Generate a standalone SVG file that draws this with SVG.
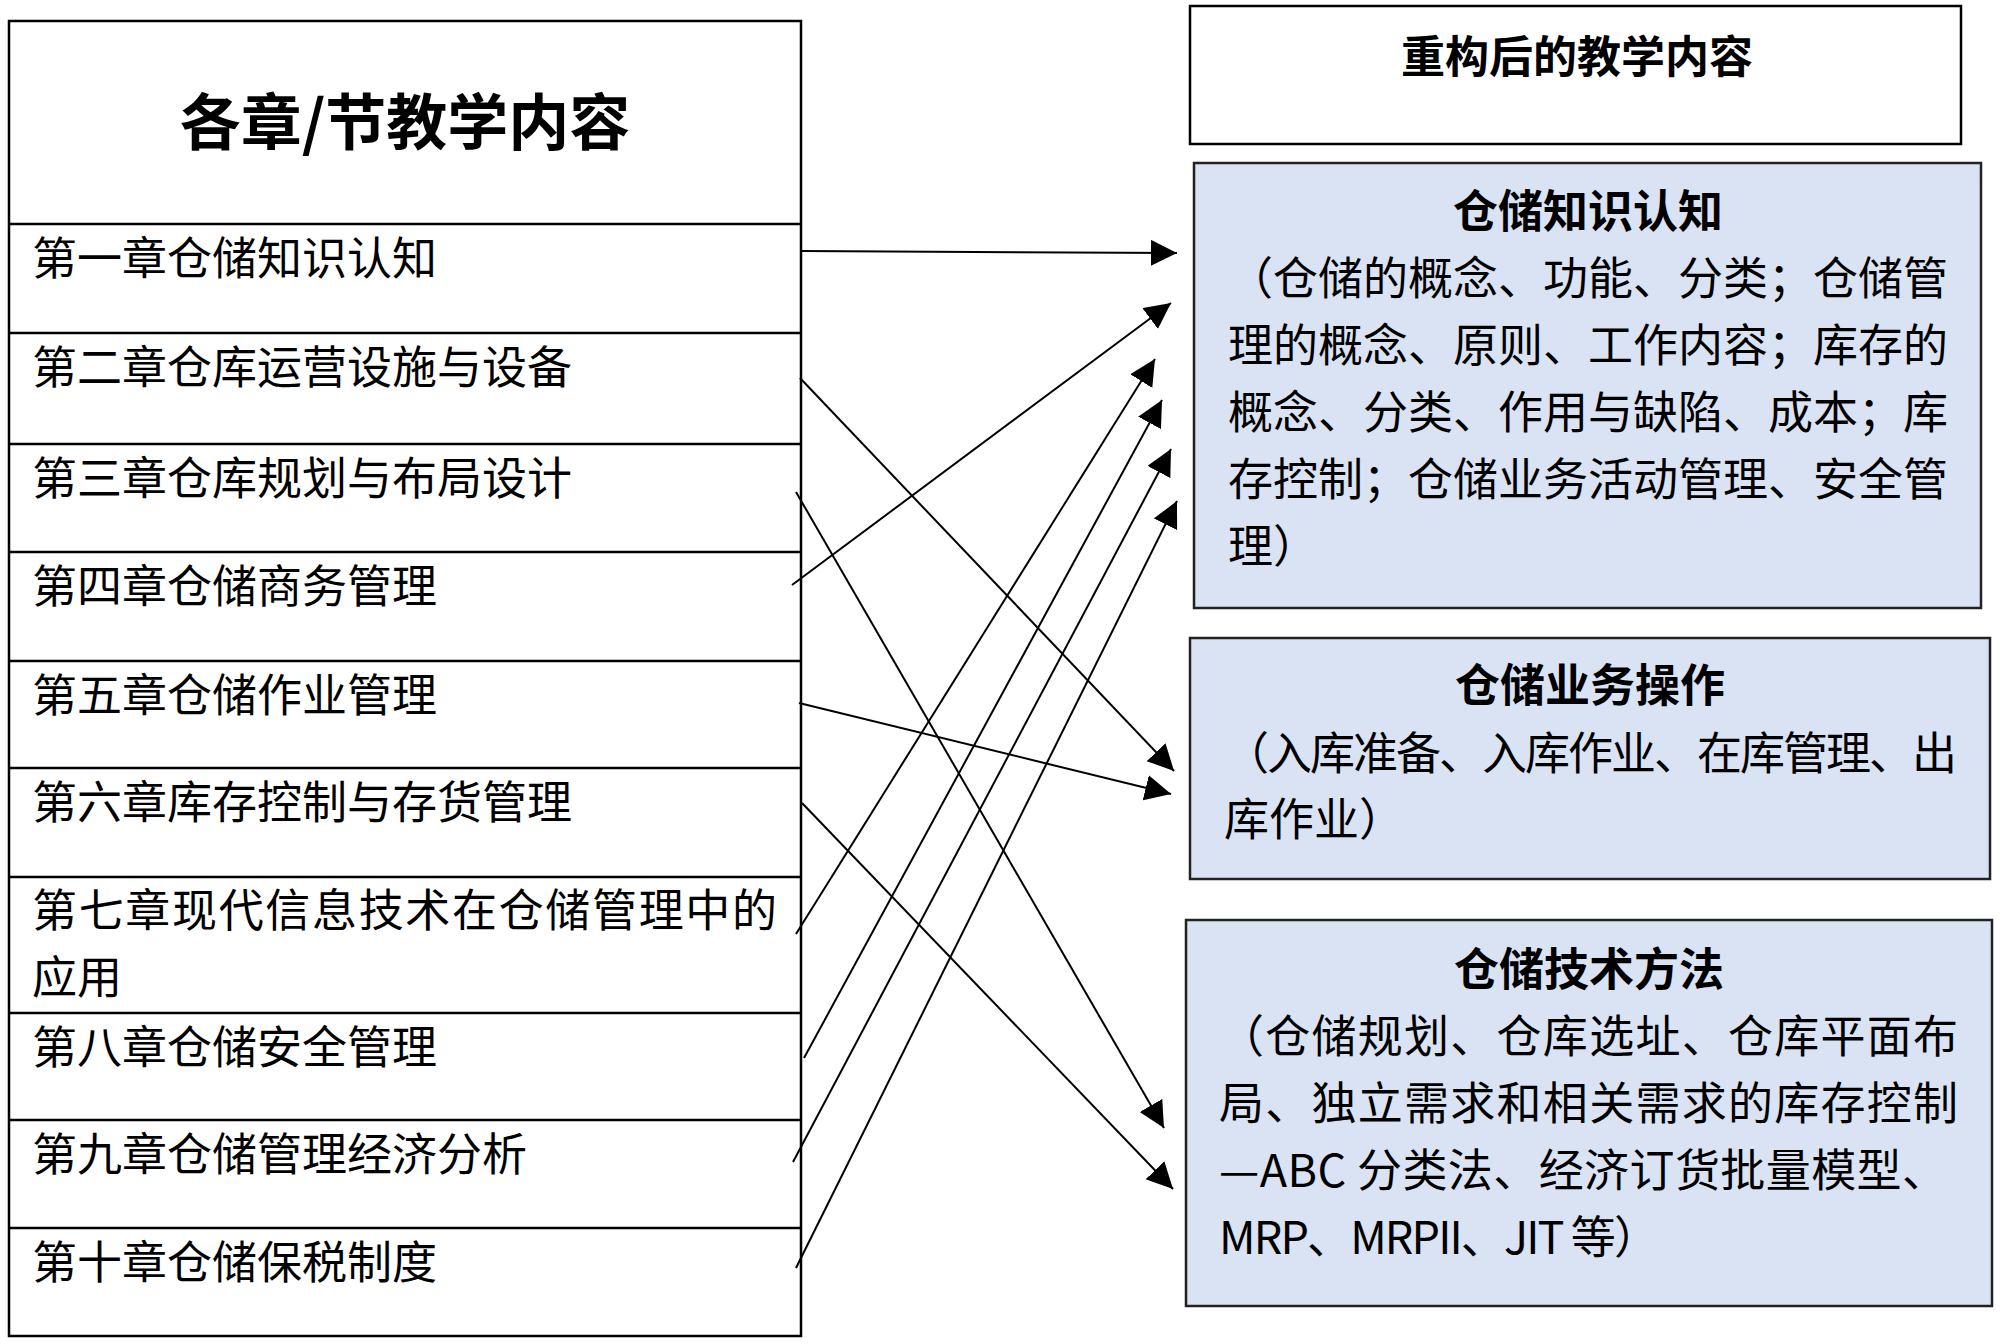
<svg xmlns="http://www.w3.org/2000/svg" width="2000" height="1344" viewBox="0 0 2000 1344">
<style>
  text { font-family: "Noto Sans CJK SC", "Noto Sans", sans-serif; fill: #000; }
  .row { font-size: 45px; }
  .body { font-size: 45px; }
  .ttl { font-size: 45px; font-weight: bold; text-anchor: middle; }
  .frame { fill: #fff; stroke: #000; stroke-width: 2.5; }
  .sep { stroke: #000; stroke-width: 2.5; }
  .blue { fill: #dae3f3; stroke: #222; stroke-width: 2.5; }
  .conn { stroke: #000; stroke-width: 2; fill: none; marker-end: url(#arr); }
</style>
<defs>
  <marker id="arr" markerUnits="userSpaceOnUse" markerWidth="27" markerHeight="27" viewBox="0 0 27 27" refX="26" refY="13" orient="auto">
    <path d="M0,0 L26,13 L0,26 z" fill="#000"/>
  </marker>
</defs>
<rect width="2000" height="1344" fill="#fff"/>

<g id="left-table">
  <rect class="frame" x="9" y="21" width="792" height="1315"/>
  <text x="405" y="145" style="font-size:61px;font-weight:bold;text-anchor:middle">各章/节教学内容</text>
  <line class="sep" x1="9" y1="224" x2="801" y2="224"/>
  <line class="sep" x1="9" y1="333" x2="801" y2="333"/>
  <line class="sep" x1="9" y1="444" x2="801" y2="444"/>
  <line class="sep" x1="9" y1="552" x2="801" y2="552"/>
  <line class="sep" x1="9" y1="661" x2="801" y2="661"/>
  <line class="sep" x1="9" y1="768" x2="801" y2="768"/>
  <line class="sep" x1="9" y1="877" x2="801" y2="877"/>
  <line class="sep" x1="9" y1="1013" x2="801" y2="1013"/>
  <line class="sep" x1="9" y1="1120" x2="801" y2="1120"/>
  <line class="sep" x1="9" y1="1228" x2="801" y2="1228"/>
</g>
<g id="ch1"><text class="row" x="32" y="275">第一章仓储知识认知</text></g>
<g id="ch2"><text class="row" x="32" y="384">第二章仓库运营设施与设备</text></g>
<g id="ch3"><text class="row" x="32" y="495">第三章仓库规划与布局设计</text></g>
<g id="ch4"><text class="row" x="32" y="603">第四章仓储商务管理</text></g>
<g id="ch5"><text class="row" x="32" y="712">第五章仓储作业管理</text></g>
<g id="ch6"><text class="row" x="32" y="819">第六章库存控制与存货管理</text></g>
<g id="ch7"><text class="row" x="32" y="927" textLength="745" lengthAdjust="spacing">第七章现代信息技术在仓储管理中的</text><text class="row" x="32" y="994">应用</text></g>
<g id="ch8"><text class="row" x="32" y="1064">第八章仓储安全管理</text></g>
<g id="ch9"><text class="row" x="32" y="1171">第九章仓储管理经济分析</text></g>
<g id="ch10"><text class="row" x="32" y="1279">第十章仓储保税制度</text></g>

<g id="right-header">
  <rect class="frame" x="1190" y="6" width="771" height="138"/>
  <text class="ttl" x="1577" y="73" style="font-size:44px">重构后的教学内容</text>
</g>

<g id="box-knowledge">
  <rect class="blue" x="1194" y="163" width="787" height="445"/>
  <text class="ttl" x="1588" y="228">仓储知识认知</text>
  <text class="body" x="1228" y="295">（仓储的概念、功能、分类；仓储管</text>
  <text class="body" x="1228" y="362">理的概念、原则、工作内容；库存的</text>
  <text class="body" x="1228" y="429">概念、分类、作用与缺陷、成本；库</text>
  <text class="body" x="1228" y="496">存控制；仓储业务活动管理、安全管</text>
  <text class="body" x="1228" y="563">理）</text>
</g>

<g id="box-operation">
  <rect class="blue" x="1190" y="638" width="800" height="241"/>
  <text class="ttl" x="1590" y="702">仓储业务操作</text>
  <text class="body" x="1224" y="770" textLength="733" lengthAdjust="spacing">（入库准备、入库作业、在库管理、出</text>
  <text class="body" x="1224" y="836">库作业）</text>
</g>

<g id="box-technique">
  <rect class="blue" x="1186" y="920" width="806" height="386"/>
  <text class="ttl" x="1589" y="986">仓储技术方法</text>
  <text class="body" x="1219" y="1053" textLength="739" lengthAdjust="spacing">（仓储规划、仓库选址、仓库平面布</text>
  <text class="body" x="1219" y="1120" textLength="739" lengthAdjust="spacing">局、独立需求和相关需求的库存控制</text>
  <text class="body" x="1219" y="1187" textLength="728" lengthAdjust="spacing">—ABC  分类法、经济订货批量模型、</text>
  <text class="body" x="1219" y="1254" textLength="440" lengthAdjust="spacing">MRP、MRPII、JIT 等）</text>
</g>

<g id="connectors">
  <line class="conn" x1="801" y1="251" x2="1177" y2="253"/>
  <line class="conn" x1="800" y1="378" x2="1174" y2="771"/>
  <line class="conn" x1="796" y1="492" x2="1164" y2="1128"/>
  <line class="conn" x1="792" y1="585" x2="1171" y2="303"/>
  <line class="conn" x1="799" y1="703" x2="1171" y2="794"/>
  <line class="conn" x1="802" y1="803" x2="1173" y2="1189"/>
  <line class="conn" x1="796" y1="934" x2="1155" y2="359"/>
  <line class="conn" x1="804" y1="1058" x2="1162" y2="400"/>
  <line class="conn" x1="793" y1="1162" x2="1171" y2="449"/>
  <line class="conn" x1="796" y1="1268" x2="1177" y2="501"/>
</g>
</svg>
